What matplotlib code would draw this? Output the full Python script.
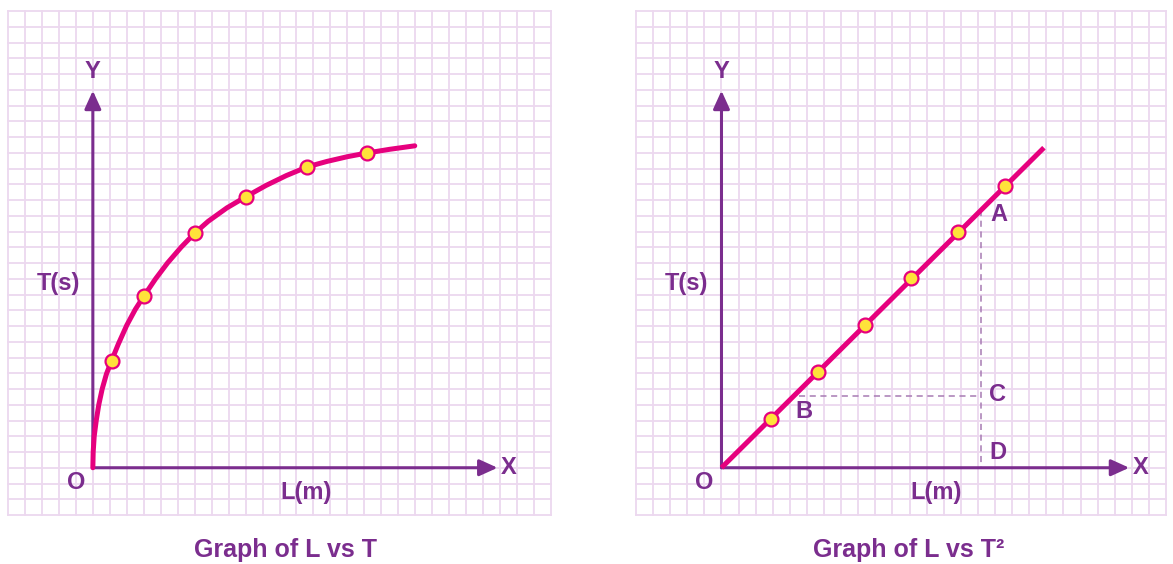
import matplotlib
matplotlib.use("Agg")
import matplotlib.pyplot as plt

# pendulum graphs, values in grid cells
# left: L vs T (curve)
curve_L = [0, 0.02, 0.08, 0.2, 0.35, 0.55, 0.8, 1.1, 1.5, 2.0, 2.5, 3.02, 3.7, 4.4,
           5.2, 6.01, 6.8, 7.9, 9.02, 10.2, 11.4, 12.65, 13.8, 15.0, 16.13, 17.5, 18.97]
curve_T = [0, 1.0, 2.0, 3.0, 4.0, 5.0, 5.95, 6.79, 7.85, 9.05, 10.05, 10.92, 12.0, 13.0,
           14.0, 14.9, 15.65, 16.5, 17.21, 17.92, 18.55, 19.11, 19.45, 19.75, 19.98, 20.22, 20.44]
pts_L = [1.10, 3.02, 6.01, 9.02, 12.65, 16.13]
pts_T = [6.79, 10.92, 14.90, 17.21, 19.11, 19.98]

# right: L vs T^2 (straight line)
line_L = [0, 18.86]
line_T2 = [0, 20.32]
pts2_L = [2.89, 5.64, 8.39, 11.08, 13.83, 16.58]
pts2_T2 = [3.11, 6.10, 9.08, 12.06, 14.98, 17.90]
A = (15.17, 16.38)
B_T2 = 4.57
B_L = 4.53

purple = "#7b2d8e"
pink = "#e6007e"
yellow = "#ffe23a"
gridc = "#ecd8ef"
dashc = "#a77bb3"
font = "Liberation Sans"

W, H = 1173, 564
fig = plt.figure(figsize=(W / 100, H / 100), dpi=100)
fig.patch.set_facecolor("white")


def panel(x0, x1, ncols):
    # grid spans y 11..515 px, 32 rows; origin 5 cells in, 3 cells up
    ax = fig.add_axes([x0 / W, (H - 515) / H, (x1 - x0) / W, 504 / H])
    ax.set_xlim(-5, ncols - 5)
    ax.set_ylim(-3, 29)
    ax.axis("off")
    for i in range(-5, ncols - 4):
        ax.axvline(i, color=gridc, lw=1.3, zorder=0, clip_on=False)
    for j in range(-3, 30):
        ax.axhline(j, color=gridc, lw=1.3, zorder=0, clip_on=False)
    head = "-|>,head_length=1.1,head_width=0.5"
    ax.annotate("", xy=(0, 23.94), xytext=(0, 0),
                arrowprops=dict(arrowstyle=head, color=purple, lw=2.2,
                                shrinkA=0, shrinkB=0), zorder=3)
    ax.annotate("", xy=(23.85, 0), xytext=(0, 0),
                arrowprops=dict(arrowstyle=head, color=purple, lw=2.2,
                                shrinkA=0, shrinkB=0), zorder=3)
    kw = dict(color=purple, fontsize=17, fontweight="bold", family=font,
              ha="center", va="center")
    ax.text(0, 25.15, "Y", **kw)
    ax.text(24.5, 0, "X", **kw)
    ax.text(-1.0, -0.95, "O", **kw)
    ax.text(-2.05, 11.68, "T(s)", **kw)
    ax.text(12.55, -1.6, "L(m)", **kw)
    return ax, kw


ax1, kw = panel(8, 551, 32)
ax1.plot(curve_L, curve_T, color=pink, lw=3.6, solid_capstyle="round",
         solid_joinstyle="round", zorder=4)
ax1.plot(pts_L, pts_T, "o", ms=10, mfc=yellow, mec=pink, mew=1.6, zorder=5)

ax2, kw = panel(636, 1166, 31)
ax2.plot(line_L, line_T2, color=pink, lw=3.6, solid_capstyle="butt", zorder=4)
ax2.plot(pts2_L, pts2_T2, "o", ms=10, mfc=yellow, mec=pink, mew=1.6, zorder=5)
ax2.plot([A[0], A[0]], [A[1], 0], ls=(0, (4, 3)), color=dashc, lw=1.1, zorder=2)
ax2.plot([B_L, A[0]], [B_T2, B_T2], ls=(0, (4, 3)), color=dashc, lw=1.1, zorder=2)
ax2.text(A[0] + 1.05, A[1] - 0.3, "A", **kw)
ax2.text(B_L + 0.3, B_T2 - 1.0, "B", **kw)
ax2.text(A[0] + 1.0, B_T2 + 0.05, "C", **kw)
ax2.text(A[0] + 1.0, 0.95, "D", **kw)

tkw = dict(color=purple, fontsize=18, fontweight="bold", family=font,
           ha="center", va="center")
fig.text(285 / W, 1 - 550 / H, "Graph of L vs T", **tkw)
fig.text(909 / W, 1 - 550 / H, "Graph of L vs T²", **tkw)

fig.savefig("out.png", dpi=100, facecolor="white")
